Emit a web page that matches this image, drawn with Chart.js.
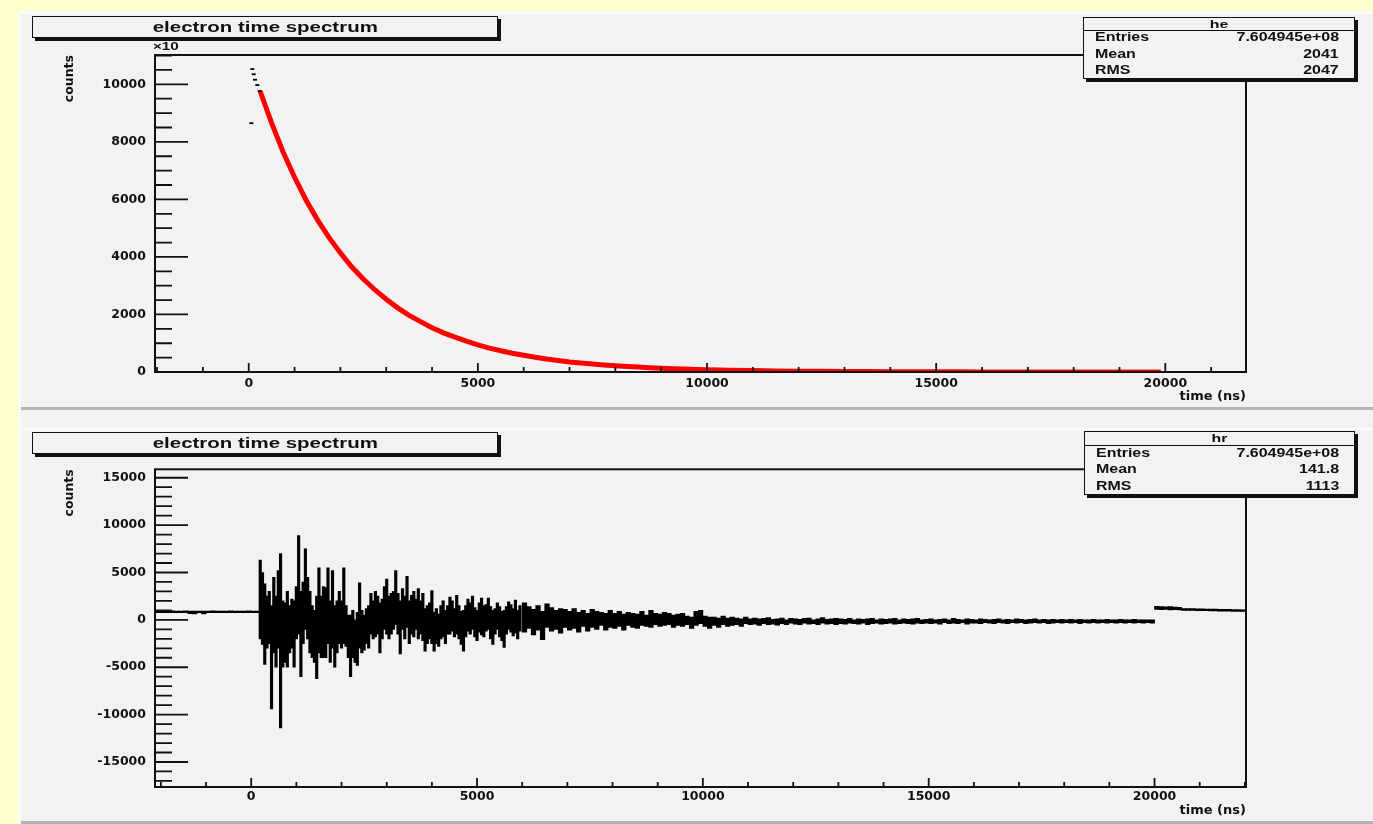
<!DOCTYPE html>
<html>
<head>
<meta charset="utf-8">
<title>electron time spectrum</title>
<script src="https://cdn.jsdelivr.net/npm/chart.js@4.4.1/dist/chart.umd.min.js"></script>
<style>
  html, body { margin: 0; padding: 0; }
  body { width: 1373px; height: 824px; position: relative; overflow: hidden; background: #ffffcc; }
  #pad { position: absolute; left: 18px; top: 11px; width: 1355px; height: 813px; background: #f2f2f2;
         border-left: 3px solid #fbfbfb; border-top: 3px solid #fbfbfb; box-sizing: border-box; }
  .rule { position: absolute; left: 21px; width: 1352px; }
  canvas { position: absolute; left: 0; }
  .box { position: absolute; background: #f2f2f2; border: 1.5px solid #111; box-shadow: 3px 3px 0 #111; box-sizing: border-box; }
  .txt { position: absolute; font-family: "Liberation Sans", Arial, sans-serif; font-weight: bold; color: #111; white-space: nowrap; line-height: 1; }
  .title { display: flex; align-items: center; justify-content: center; }
  .title span { display: inline-block; font-family: "Liberation Sans", Arial, sans-serif; font-weight: bold; font-size: 15.5px; color: #111; transform: scaleX(1.32); line-height: 1; }
  .hdr { position: absolute; left: 0; right: 0; top: 0; border-bottom: 1px solid #111; }
  .hdr span { display: block; text-align: center; font-family: "Liberation Sans", Arial, sans-serif; font-weight: bold; font-size: 11.5px; color: #111; line-height: 1; transform: scaleX(1.38); }
  .lab { left: 10.5px; font-size: 12px; transform: scaleX(1.33); transform-origin: left center; }
  .val { right: 15px; font-size: 12px; transform: scaleX(1.33); transform-origin: right center; text-align: right; }
</style>
</head>
<body>
<div id="pad"></div>
<div class="rule" style="top:407px;height:3px;background:#b4b4b4;"></div>
<div class="rule" style="top:428px;height:2px;background:#fbfbfb;"></div>
<div class="rule" style="top:821px;height:3px;background:#b4b4b4;"></div>

<canvas id="topChart" width="1373" height="410" style="top:0;"></canvas>
<canvas id="bottomChart" width="1373" height="412" style="top:412px;"></canvas>

<!-- upper panel annotations -->
<div class="box title" style="left:32px;top:16px;width:466px;height:22px;"><span>electron time spectrum</span></div>
<div class="txt" style="left:153px;top:41px;font-size:11px;transform:scaleX(1.38);transform-origin:left center;">×10</div>
<div class="box" style="left:1083px;top:17px;width:272px;height:62px;">
  <div class="hdr" style="height:12px;"><span style="padding-top:0.5px;">he</span></div>
  <div class="txt lab" style="top:13.3px;">Entries</div><div class="txt val" style="top:13.3px;">7.604945e+08</div>
  <div class="txt lab" style="top:30.3px;">Mean</div><div class="txt val" style="top:30.3px;">2041</div>
  <div class="txt lab" style="top:46.3px;">RMS</div><div class="txt val" style="top:46.3px;">2047</div>
</div>

<!-- lower panel annotations -->
<div class="box title" style="left:32px;top:432px;width:466px;height:22px;"><span>electron time spectrum</span></div>
<div class="box" style="left:1084px;top:431px;width:271px;height:64px;">
  <div class="hdr" style="height:13px;"><span style="padding-top:1px;">hr</span></div>
  <div class="txt lab" style="top:15.1px;">Entries</div><div class="txt val" style="top:15.1px;">7.604945e+08</div>
  <div class="txt lab" style="top:31.1px;">Mean</div><div class="txt val" style="top:31.1px;">141.8</div>
  <div class="txt lab" style="top:47.5px;">RMS</div><div class="txt val" style="top:47.5px;">1113</div>
</div>

<script>
// ---------- upper panel: decay spectrum (counts in units of 10) ----------
const fitTimes = [250, 500, 750, 1000, 1250, 1500, 1750, 2000, 2250, 2500,
  2750, 3000, 3250, 3500, 3750, 4000, 4250, 4500, 4750, 5000,
  5250, 5500, 5750, 6000, 6250, 6500, 6750, 7000, 7250, 7500,
  7750, 8000, 8250, 8500, 8750, 9000, 9250, 9500, 9750, 10000,
  10500, 11000, 11500, 12000, 12500, 13000, 13500, 14000, 14500, 15000,
  15500, 16000, 16500, 17000, 17500, 18000, 18500, 19000, 19500, 19900];
const fitCounts = [9760, 8650, 7650, 6770, 5980, 5290, 4680, 4140, 3650, 3230,
  2860, 2530, 2230, 1970, 1750, 1540, 1360, 1210, 1070, 940,
  830, 740, 650, 580, 510, 450, 400, 350, 310, 275,
  245, 215, 190, 170, 150, 130, 115, 105, 90, 80,
  63, 49, 38, 30, 24, 18, 14, 11, 9, 7,
  5, 4, 3, 3, 2, 2, 1, 1, 1, 1];
const firstBinTimes = [57, 79, 109, 137, 188, 240];
const firstBinCounts = [8650, 10530, 10350, 10160, 9975, 9770];
const topXTicks = [0, 5000, 10000, 15000, 20000];
const topYTicks = [0, 2000, 4000, 6000, 8000, 10000];

// ---------- lower panel: residuals, drawn as [low, high] per bin ----------
const preStart = -2050, preWidth = 100;
const preLow  = [760, 750, 760, 770, 750, 760, 770, 650, 640, 760, 620, 760, 750, 770, 760, 750, 760, 770, 750, 760, 770, 760, 750];
const preHigh = [930, 920, 930, 940, 920, 930, 940, 930, 920, 930, 920, 930, 940, 930, 920, 930, 940, 930, 920, 930, 940, 930, 920];

const earlyStart = 200, earlyWidth = 50;
const earlyLow = [
  -2000, -2600, -4700, -3000, -2500, -9400, -3500, -5000, -3000, -11400,
  -5000, -4500, -5000, -3500, -3000, -5000, -2000, -1500, -6000, -2500,
  -1000, -2000, -3500, -4000, -4500, -6200, -3500, -4000, -4000, -4000,
  -2500, -4500, -3000, -5000, -3500, -2500, -3000, -2500, -2800, -4000,
  -6000, -4000, -4500, -4800, -3000, -3500, -3200, -2500, -3000, -1500,
  -2000, -1800, -1500, -3500, -2000, -1000, -1500, -2000, -1500, -1000,
  -500, -1500, -3600, -1000, -2000, -800, -2500, -1500, -1800, -1000,
  -2000, -1500, -2200, -3300, -2500, -2000, -2500, -3300, -2500, -2800,
  -2000, -1800, -2500, -1500, -1500, -1200, -1800, -1500, -2000, -2600,
  -3300, -1800, -1200, -1500, -1000, -1800, -2200, -1300, -1600, -1800,
  -1200, -1000, -2000, -2600, -1500, -1000, -1800, -2200, -2900, -1500,
  -1000, -1300, -1700, -1400, -2000, -1200];
const earlyHigh = [
  6300, 5000, 3800, 2500, 3000, 1500, 4500, 2500, 5200, 7000,
  2000, 1800, 3000, 1500, 2200, 2000, 3500, 8900, 3000, 4000,
  7500, 4500, 3000, 1500, 1000, 2500, 5500, 2500, 3500, 3400,
  5500, 2000, 5200, 1500, 2000, 3000, 2000, 5500, 1500, 500,
  500, 1000, 0, 800, 3900, 1000, 500, 1200, 1500, 2800,
  2000, 3000, 2500, 1800, 2200, 3500, 4300, 2500, 2800, 3000,
  5200, 2800, 2000, 3300, 2500, 4600, 2000, 2600, 3000, 2200,
  3300, 2000, 2800, 1200, 1500, 1800, 3100, 800, 1200, 600,
  1500, 2000, 1000, 1500, 2400, 2000, 1200, 2600, 1500, 900,
  1000, 1500, 2200, 1800, 2500, 1300, 1000, 1800, 2300, 1500,
  1600, 2300, 1400, 1000, 1200, 1800, 1400, 900, 1000, 1400,
  1900, 1600, 1200, 2100, 1000, 1500];

const lateStart = 6050, lateWidth = 100;
const lateLow = [
  -1300, -900, -1600, -1100, -2100, -800, -1200, -1000, -1400, -800,
  -1100, -900, -1300, -700, -1200, -800, -1000, -600, -1100, -800,
  -900, -700, -1100, -600, -800, -900, -600, -700, -800, -500,
  -700, -600, -500, -800, -600, -700, -500, -900, -600, -400,
  -700, -900, -600, -800, -500, -700, -600, -500, -700, -400,
  -500, -450, -600, -400, -500, -450, -550, -400, -500, -350,
  -450, -500, -350, -450, -400, -500, -350, -450, -400, -500,
  -400, -450, -350, -400, -450, -350, -500, -400, -350, -450,
  -400, -350, -450, -400, -350, -400, -450, -350, -400, -350,
  -400, -350, -450, -300, -400, -350, -400, -300, -450, -350,
  -350, -400, -300, -350, -400, -300, -350, -400, -300, -350,
  -300, -400, -350, -300, -350, -300, -400, -350, -300, -350,
  -300, -350, -300, -400, -300, -350, -300, -350, -300, -350,
  -300, -350, -300, -350, -300, -350, -300, -350, -300, -350];
const lateHigh = [
  1800, 1400, 1100, 1500, 900, 1700, 1300, 1000, 1200, 1100,
  900, 1200, 800, 1000, 700, 1100, 900, 800, 700, 1000,
  700, 900, 600, 800, 700, 600, 900, 500, 1000, 700,
  600, 800, 700, 500, 600, 700, 400, 300, 900, 1000,
  400, 300, 300, 200, 400, 200, 300, 200, 100, 300,
  100, 200, 100, 150, 250, 50, 100, 200, 0, 150,
  100, 50, 150, 200, 0, 100, 250, 50, 100, 150,
  100, 50, 150, 0, 100, 50, 100, 150, 0, 100,
  50, 100, 150, 0, 100, 50, 100, 150, 0, 50,
  100, 0, 50, 100, 0, 150, 50, 0, 100, 50,
  0, 100, 50, 0, 50, 100, 0, 50, 0, 100,
  50, 0, 50, 100, 0, 50, 0, 50, 0, 50,
  0, 50, 0, 50, 0, 0, 50, 0, 0, 50,
  0, 0, 50, 0, 0, 50, 0, 0, 0, 0];

const postStart = 20050, postWidth = 100;
const postLow  = [1100, 1080, 1100, 1060, 1080, 1050, 1000, 990, 1000, 980, 960, 970, 950, 940, 930, 920, 910, 900, 890, 880];
const postHigh = [1420, 1400, 1380, 1390, 1350, 1330, 1200, 1190, 1180, 1170, 1160, 1150, 1140, 1130, 1120, 1110, 1100, 1090, 1080, 1070];

const bottomXTicks = [0, 5000, 10000, 15000, 20000];
const bottomYTicks = [-15000, -10000, -5000, 0, 5000, 10000, 15000];

// ---------- shared helpers ----------
Chart.defaults.font.family = "'DejaVu Sans', sans-serif";
Chart.defaults.font.weight = 'bold';
Chart.defaults.font.size = 12.5;
Chart.defaults.color = '#111';

const tickFont = { family: "'DejaVu Sans', sans-serif", weight: 'bold', size: 12.5 };
const titleFont = { family: "'DejaVu Sans', sans-serif", weight: 'bold', size: 13 };

function fixedAxis(size) {
  return function (scale) {
    if (scale.isHorizontal()) scale.height = size; else scale.width = size;
    scale.paddingTop = 0; scale.paddingBottom = 0;
    scale.paddingLeft = 0; scale.paddingRight = 0;
  };
}
function setTicks(values) {
  return function (scale) { scale.ticks = values.map(v => ({ value: v })); };
}

// frame box plus inward-pointing major/minor ticks on the bottom and left edges
const frameTicks = {
  id: 'frameTicks',
  afterDatasetsDraw(chart, args, o) {
    const { ctx, chartArea: a } = chart;
    const xs = chart.scales.x, ys = chart.scales.y;
    ctx.save();
    ctx.strokeStyle = '#111';
    ctx.lineWidth = 1.8;
    ctx.beginPath();
    for (let v = o.xFrom; v <= xs.max; v += o.xMinor) {
      const px = xs.getPixelForValue(v);
      const len = Math.abs(v % o.xMajor) < 1e-6 ? o.xMajorLen : o.xMinorLen;
      ctx.moveTo(px, a.bottom); ctx.lineTo(px, a.bottom - len);
    }
    for (let v = o.yFrom; v <= ys.max; v += o.yMinor) {
      const py = ys.getPixelForValue(v);
      const len = Math.abs(v % o.yMajor) < 1e-6 ? o.yMajorLen : o.yMinorLen;
      ctx.moveTo(a.left, py); ctx.lineTo(a.left + len, py);
    }
    ctx.stroke();
    ctx.lineWidth = 2;
    ctx.strokeRect(a.left, a.top, a.right - a.left, a.bottom - a.top);
    ctx.restore();
  }
};

function xAxis(min, max, ticks, height, labelPad, titlePad) {
  return {
    type: 'linear', min, max, offset: false,
    grid: { display: false, drawTicks: false }, border: { display: false },
    afterBuildTicks: setTicks(ticks), afterFit: fixedAxis(height),
    ticks: { font: tickFont, color: '#111', padding: labelPad, maxRotation: 0, autoSkip: false, callback: v => String(v) },
    title: { display: true, text: 'time (ns)', align: 'end', font: titleFont, color: '#111', padding: { top: 0, bottom: titlePad } }
  };
}
function yAxis(min, max, ticks) {
  return {
    type: 'linear', min, max,
    grid: { display: false, drawTicks: false }, border: { display: false },
    afterBuildTicks: setTicks(ticks), afterFit: fixedAxis(100),
    ticks: { font: tickFont, color: '#111', padding: 9, autoSkip: false, callback: v => String(v) },
    title: { display: true, text: 'counts', align: 'end', font: tickFont, color: '#111', padding: { top: 7, bottom: 0 } }
  };
}

// ---------- upper chart ----------
new Chart(document.getElementById('topChart'), {
  type: 'scatter',
  data: {
    datasets: [
      {
        type: 'line',
        data: fitTimes.map((t, i) => ({ x: t, y: fitCounts[i] })),
        borderColor: '#ff0000', borderWidth: 5, pointRadius: 0, tension: 0, fill: false, clip: 0, order: 2
      },
      {
        type: 'scatter',
        data: firstBinTimes.map((t, i) => ({ x: t, y: firstBinCounts[i] })),
        pointStyle: 'line', pointRadius: 2, borderWidth: 1.8, borderColor: '#000', backgroundColor: '#000', order: 1
      }
    ]
  },
  options: {
    responsive: false, animation: false, devicePixelRatio: 1,
    layout: { padding: { left: 55, top: 55, right: 127, bottom: 0 } },
    plugins: {
      legend: { display: false }, tooltip: { enabled: false },
      frameTicks: { xFrom: -2000, xMinor: 1000, xMajor: 5000, xMajorLen: 9, xMinorLen: 5,
                    yFrom: 0, yMinor: 500, yMajor: 2000, yMajorLen: 33, yMinorLen: 17 }
    },
    scales: {
      x: xAxis(-2045, 21760, topXTicks, 38, 4, 5.5),
      y: yAxis(0, 11020, topYTicks)
    }
  },
  plugins: [frameTicks]
});

// ---------- lower chart ----------
function binBars(start, width, low, high, thickness) {
  return {
    type: 'bar', grouped: false, barThickness: thickness,
    backgroundColor: '#000', borderWidth: 0,
    data: low.map((lo, i) => ({ x: start + i * width, y: [lo, high[i]] }))
  };
}

new Chart(document.getElementById('bottomChart'), {
  type: 'bar',
  data: {
    datasets: [
      binBars(preStart, preWidth, preLow, preHigh, 4.6),
      binBars(earlyStart, earlyWidth, earlyLow, earlyHigh, 2.5),
      binBars(lateStart, lateWidth, lateLow, lateHigh, 4.6),
      binBars(postStart, postWidth, postLow, postHigh, 4.6)
    ]
  },
  options: {
    responsive: false, animation: false, devicePixelRatio: 1,
    layout: { padding: { left: 55, top: 57.3, right: 127, bottom: 0 } },
    plugins: {
      legend: { display: false }, tooltip: { enabled: false },
      frameTicks: { xFrom: -2000, xMinor: 1000, xMajor: 5000, xMajorLen: 9, xMinorLen: 5,
                    yFrom: -17000, yMinor: 1000, yMajor: 5000, yMajorLen: 33, yMinorLen: 17 }
    },
    scales: {
      x: xAxis(-2130, 22025, bottomXTicks, 37, 2, 6),
      y: yAxis(-17640, 15890, bottomYTicks)
    }
  },
  plugins: [frameTicks]
});
</script>
</body>
</html>
